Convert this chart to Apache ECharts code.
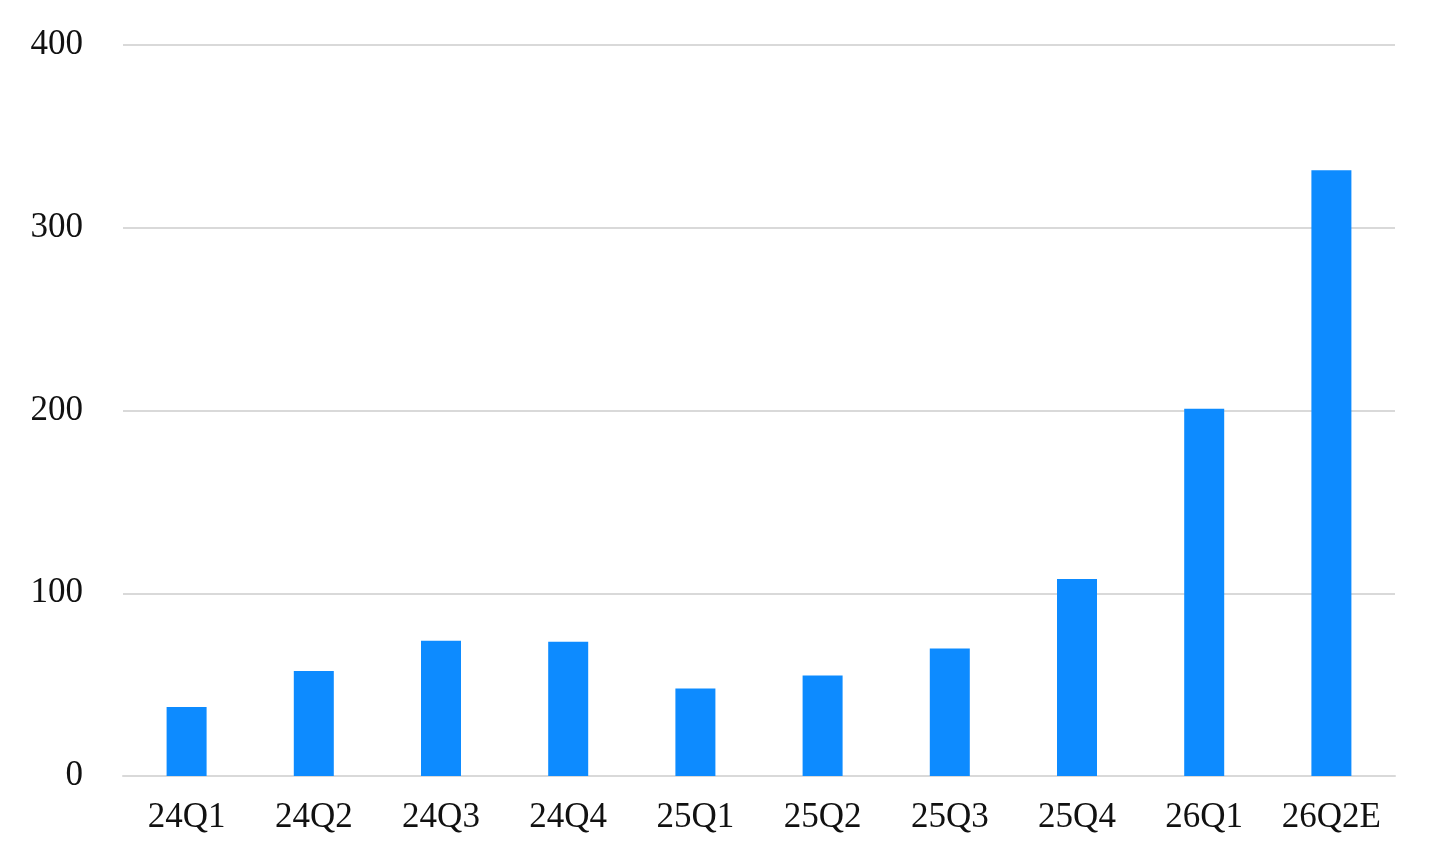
<!DOCTYPE html>
<html>
<head>
<meta charset="utf-8">
<script src="https://cdn.jsdelivr.net/npm/echarts@6/dist/echarts.min.js"></script>
<style>
  html, body { margin: 0; padding: 0; background: #fff; }
  #main { width: 1439px; height: 864px; }
</style>
</head>
<body>
<div id="main"></div>
<script>
var quarters = ['24Q1', '24Q2', '24Q3', '24Q4', '25Q1', '25Q2', '25Q3', '25Q4', '26Q1', '26Q2E'];
var values = [37.8, 57.4, 74, 73.5, 47.9, 55, 69.8, 107.8, 201, 331.4];
var yTicks = [0, 100, 200, 300, 400];

var myChart = echarts.init(document.getElementById('main'));
var font = '"Liberation Serif", "Times New Roman", serif';

var option = {
  backgroundColor: '#fff',
  animation: false,
  grid: { left: 123, right: 44, top: 45, bottom: 88, containLabel: false },
  xAxis: {
    type: 'category',
    data: quarters,
    axisLine: { show: true, lineStyle: { color: '#d9d9d9', width: 2 } },
    axisTick: { show: false },
    axisLabel: { interval: 0, color: '#111', fontFamily: font, fontSize: 35, margin: 24 }
  },
  yAxis: {
    type: 'value',
    min: yTicks[0],
    max: yTicks[yTicks.length - 1],
    interval: 100,
    axisLine: { show: false },
    axisTick: { show: false },
    splitLine: { lineStyle: { color: '#d9d9d9', width: 2 } },
    axisLabel: { color: '#111', fontFamily: font, fontSize: 35, margin: 40 }
  },
  series: [{
    type: 'bar',
    data: values,
    barWidth: 40,
    itemStyle: { color: '#0d8bff' }
  }]
};

myChart.setOption(option);
</script>
</body>
</html>
